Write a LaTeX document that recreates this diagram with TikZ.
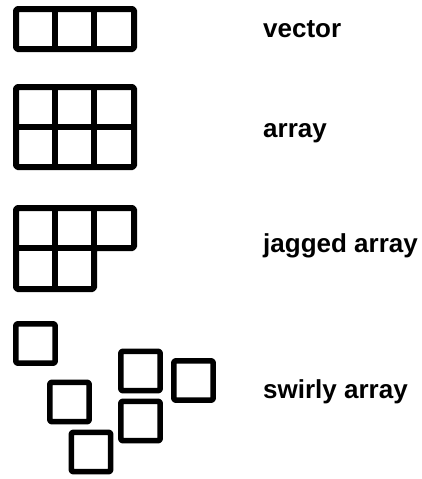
\documentclass[tikz,border=0pt]{standalone}
\usepackage{fontspec}
\setmainfont{Liberation Sans}
\begin{document}
\begin{tikzpicture}[x=1pt,y=-1pt,
  grid/.style={line width=6pt,line join=round,rounded corners=1.5pt},
  cell/.style={line width=5.5pt,line join=round,rounded corners=1.5pt},
  lbl/.style={anchor=base west,inner sep=0pt,font=\fontsize{26}{30}\selectfont\bfseries}]
\useasboundingbox (0,0) rectangle (422,479);
% vector
\draw[grid] (16,9) rectangle (134,49);
\draw[line width=6pt] (55,9) -- (55,49) (94,9) -- (94,49);
% array
\draw[grid] (16,87) rectangle (134,167);
\draw[line width=6pt] (55,87) -- (55,167) (94,87) -- (94,167) (16,127) -- (134,127);
% jagged array
\draw[grid] (16,208) -- (134,208) -- (134,248) -- (94,248) -- (94,289) -- (16,289) -- cycle;
\draw[line width=6pt] (55,208) -- (55,289) (94,208) -- (94,248) (16,248) -- (94,248);
% swirly array
\foreach \cx/\cy in {35.5/343.5, 69.5/402, 91/452, 140.5/371, 140.5/421, 193.5/380.5}{
  \draw[cell] (\cx-19.7,\cy-19.7) rectangle (\cx+19.7,\cy+19.7);
}
\node[lbl] (v) at (263,37) {vector};
\node[lbl] (a) at (263,137) {array};
\node[lbl] (j) at (263,252) {jagged array};
\node[lbl] (s) at (263,398) {swirly array};
\end{tikzpicture}
\end{document}
